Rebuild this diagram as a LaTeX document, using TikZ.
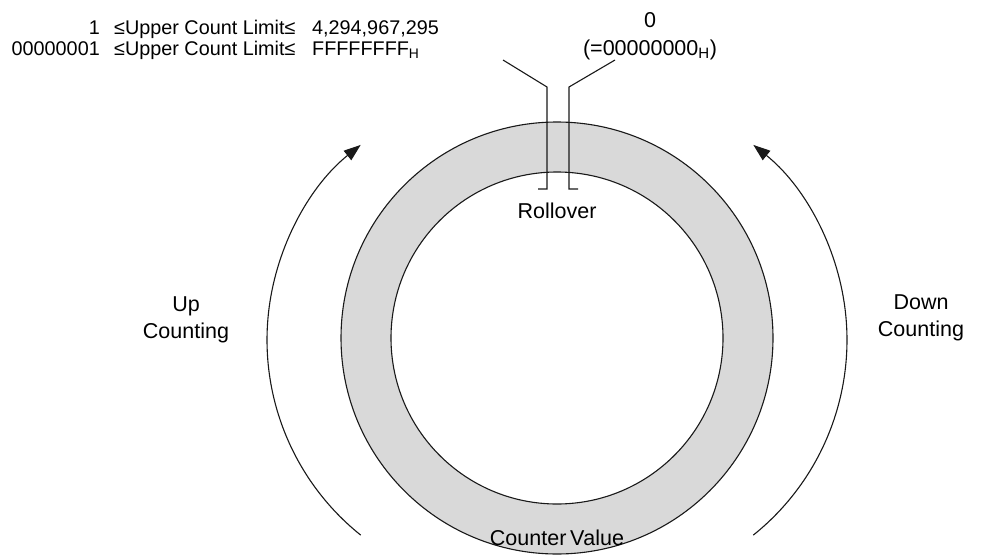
\documentclass[tikz,border=0pt]{standalone}
\usepackage{fontspec}
\setmainfont{Liberation Sans}
\usetikzlibrary{arrows.meta}
\definecolor{ringgray}{RGB}{217,217,217}
\begin{document}
\begin{tikzpicture}[x=1pt,y=-1pt,
  lbl/.style={inner sep=0pt,font=\fontsize{19.8}{22}\selectfont},
  big/.style={inner sep=0pt,align=center,font=\fontsize{21.5}{27}\selectfont},
  ln/.style={line width=1.1pt,black!90},
  arc/.style={line width=1.1pt,black!90,-{Triangle[length=17pt,width=12pt]}}]
\useasboundingbox (0,0) rectangle (986,557);
% ring
\coordinate (c) at (557,338);
\fill[ringgray,even odd rule] (c) circle[radius=216] (c) circle[radius=166];
\draw[ln] (c) circle[radius=216];
\draw[ln] (c) circle[radius=166];
% marker lines
\coordinate (l0) at (503,60);
\coordinate (l1) at (547,87);
\coordinate (l2) at (547,189);
\coordinate (l3) at (538,189);
\coordinate (r0) at (615,60);
\coordinate (r1) at (569,87);
\coordinate (r2) at (569,189);
\coordinate (r3) at (578,189);
\draw[ln] (l0) -- (l1) -- (l2) -- (l3);
\draw[ln] (r0) -- (r1) -- (r2) -- (r3);
% top texts
\node[lbl,anchor=base east] (a1) at (100,34) {1};
\node[lbl,anchor=base west] (b1) at (114,34) {≤Upper Count Limit≤};
\node[lbl,anchor=base west] (d1) at (312,34) {4,294,967,295};
\node[lbl,anchor=base east] (a2) at (100,55) {00000001};
\node[lbl,anchor=base west] (b2) at (114,55) {≤Upper Count Limit≤};
\node[lbl,anchor=base west] (d2) at (312,55) {FFFFFFFF\textsubscript{H}};
\node[big,anchor=base] (z1) at (650,27) {0};
\node[big,anchor=base] (z2) at (650,55) {(=00000000\textsubscript{H})};
% labels
\node[big] (roll) at (557,211) {Rollover};
\node[big] (cv) at (557,538) {Counter\,V\kern-1pt alue};
\node[big] (up) at (186,320) {Up\\Counting};
\node[big] (down) at (921,318) {Down\\Counting};
% arrows
\coordinate (lc) at (517,340);
\coordinate (rc) at (597,340);
\draw[arc] ([shift={(128.7:250)}]lc) arc[start angle=128.7,end angle=231.3,radius=250];
\draw[arc] ([shift={(51.3:250)}]rc) arc[start angle=51.3,end angle=-51.3,radius=250];
\end{tikzpicture}
\end{document}
